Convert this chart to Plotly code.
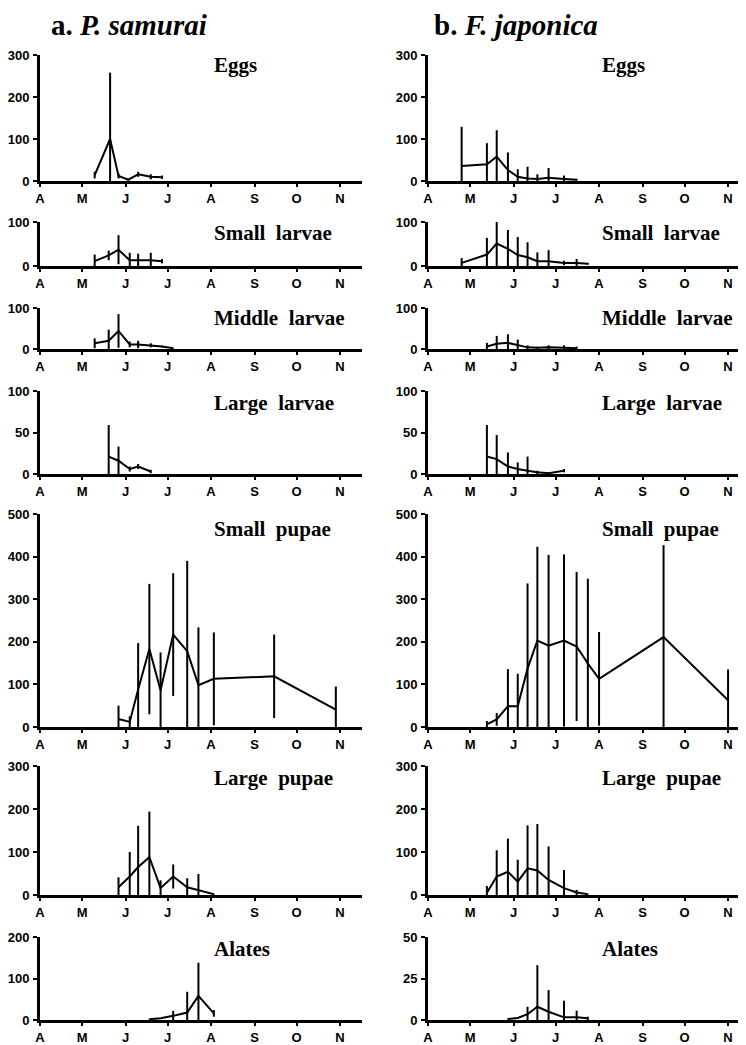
import plotly.graph_objects as go

YEAR = "1990-"
month_ticks = ["04-01", "05-01", "06-01", "07-01", "08-01", "09-01", "10-01", "11-01"]
month_labels = ["A", "M", "J", "J", "A", "S", "O", "N"]

stages = ["Eggs", "Small larvae", "Middle larvae", "Large larvae", "Small pupae", "Large pupae", "Alates"]

# ---- a. P. samurai ----
ps_eggs_dates = ["05-10", "05-21", "05-27", "06-03", "06-10", "06-19", "06-27"]
ps_eggs_mean = [14, 100, 12, 3, 16, 10, 9]
ps_eggs_sd = [8, 158, 6, 3, 6, 6, 4]

ps_sl_dates = ["05-10", "05-20", "05-27", "06-04", "06-10", "06-19", "06-27"]
ps_sl_mean = [11, 24, 37, 13, 13, 13, 11]
ps_sl_sd = [15, 11, 33, 17, 15, 17, 5]

ps_ml_dates = ["05-10", "05-20", "05-27", "06-04", "06-10", "06-19", "06-27", "07-05"]
ps_ml_mean = [14, 20, 44, 11, 11, 9, 6, 2]
ps_ml_sd = [12, 27, 41, 7, 9, 5, 2, 1]

ps_ll_dates = ["05-20", "05-27", "06-04", "06-10", "06-19"]
ps_ll_mean = [21, 16, 6, 9, 3]
ps_ll_sd = [38, 17, 3, 3, 2]

ps_sp_dates = ["05-27", "06-04", "06-10", "06-18", "06-26", "07-05", "07-15", "07-23", "08-03", "09-15", "10-29"]
ps_sp_mean = [19, 12, 88, 183, 86, 217, 178, 98, 113, 119, 41]
ps_sp_sd = [31, 13, 109, 153, 89, 144, 212, 136, 109, 98, 54]

ps_lp_dates = ["05-27", "06-04", "06-10", "06-18", "06-26", "07-05", "07-15", "07-23", "08-03"]
ps_lp_mean = [18, 43, 65, 88, 16, 43, 18, 12, 2]
ps_lp_sd = [23, 57, 96, 106, 18, 28, 21, 37, 1]

ps_al_dates = ["06-18", "06-26", "07-05", "07-15", "07-23", "08-03"]
ps_al_mean = [2, 4, 10, 18, 58, 16]
ps_al_sd = [1, 1, 12, 50, 80, 8]

# ---- b. F. japonica ----
fj_eggs_dates = ["04-25", "05-13", "05-20", "05-28", "06-04", "06-11", "06-18", "06-26", "07-07", "07-16"]
fj_eggs_mean = [36, 40, 58, 26, 10, 6, 5, 8, 5, 3]
fj_eggs_sd = [93, 50, 63, 42, 18, 28, 11, 23, 8, 2]

fj_sl_dates = ["04-25", "05-13", "05-20", "05-28", "06-04", "06-11", "06-18", "06-26", "07-07", "07-16", "07-24"]
fj_sl_mean = [7, 26, 51, 39, 25, 20, 11, 11, 7, 7, 5]
fj_sl_sd = [11, 38, 53, 43, 41, 34, 20, 25, 5, 9, 2]

fj_ml_dates = ["05-13", "05-20", "05-28", "06-04", "06-11", "06-18", "06-26", "07-07", "07-16"]
fj_ml_mean = [6, 13, 15, 9, 4, 3, 4, 3, 2]
fj_ml_sd = [9, 19, 21, 14, 5, 3, 5, 6, 4]

fj_ll_dates = ["05-13", "05-20", "05-28", "06-04", "06-11", "06-18", "06-26", "07-07"]
fj_ll_mean = [21, 18, 9, 6, 4, 2, 1, 4]
fj_ll_sd = [38, 29, 17, 8, 17, 2, 1, 2]

fj_sp_dates = ["05-13", "05-20", "05-28", "06-04", "06-11", "06-18", "06-26", "07-07", "07-16", "07-24", "08-01", "09-16", "11-01"]
fj_sp_mean = [6, 18, 49, 49, 137, 203, 191, 203, 189, 149, 113, 211, 63]
fj_sp_sd = [8, 15, 87, 76, 200, 220, 213, 202, 175, 199, 110, 216, 72]

fj_lp_dates = ["05-13", "05-20", "05-28", "06-04", "06-11", "06-18", "06-26", "07-07", "07-16", "07-24"]
fj_lp_mean = [5, 43, 54, 31, 62, 57, 35, 16, 6, 2]
fj_lp_sd = [16, 61, 77, 51, 100, 108, 78, 42, 6, 1]

fj_al_dates = ["05-28", "06-04", "06-11", "06-18", "06-26", "07-07", "07-16", "07-24"]
fj_al_mean = [0.6, 1.2, 3.5, 8, 5, 1.6, 1.6, 1]
fj_al_sd = [0.3, 0.5, 4.5, 25, 13, 10, 4, 1]

ps_panels = [
    (ps_eggs_dates, ps_eggs_mean, ps_eggs_sd),
    (ps_sl_dates, ps_sl_mean, ps_sl_sd),
    (ps_ml_dates, ps_ml_mean, ps_ml_sd),
    (ps_ll_dates, ps_ll_mean, ps_ll_sd),
    (ps_sp_dates, ps_sp_mean, ps_sp_sd),
    (ps_lp_dates, ps_lp_mean, ps_lp_sd),
    (ps_al_dates, ps_al_mean, ps_al_sd),
]
fj_panels = [
    (fj_eggs_dates, fj_eggs_mean, fj_eggs_sd),
    (fj_sl_dates, fj_sl_mean, fj_sl_sd),
    (fj_ml_dates, fj_ml_mean, fj_ml_sd),
    (fj_ll_dates, fj_ll_mean, fj_ll_sd),
    (fj_sp_dates, fj_sp_mean, fj_sp_sd),
    (fj_lp_dates, fj_lp_mean, fj_lp_sd),
    (fj_al_dates, fj_al_mean, fj_al_sd),
]

ps_ymax = [300, 100, 100, 100, 500, 300, 200]
fj_ymax = [300, 100, 100, 100, 500, 300, 50]
ps_yticks = [[0, 100, 200, 300], [0, 100], [0, 100], [0, 50, 100], [0, 100, 200, 300, 400, 500], [0, 100, 200, 300], [0, 100, 200]]
fj_yticks = [[0, 100, 200, 300], [0, 100], [0, 100], [0, 50, 100], [0, 100, 200, 300, 400, 500], [0, 100, 200, 300], [0, 25, 50]]

# ---- layout geometry (page pixels; the page body adds an 8px offset) ----
OFF = 8
W, H = 746 - OFF, 1045 - OFF


def fx(px):
    return (px - OFF) / W


def fy(py):
    return 1 - (py - OFF) / H


row_px = [(55, 181), (222, 266), (308, 349), (391, 474), (514, 727), (766, 895), (937, 1020)]
col_px = [(40, 362), (428, 746)]
col_xend = ["1990-11-16 16:00", "1990-11-13 19:00"]
label_y = [65, 233, 318, 403, 529, 778, 949]
label_x = [212, 600]

fig = go.Figure()
layout = dict(
    width=W, height=H, margin=dict(l=0, r=0, t=0, b=0, autoexpand=False),
    paper_bgcolor="white", plot_bgcolor="white", showlegend=False,
)
annotations = []

tick_font_x = dict(family="Liberation Sans, Arial, sans-serif", size=13, color="black", weight="bold")
tick_font_y = dict(family="Liberation Sans Narrow, Liberation Sans, Arial, sans-serif", size=13, color="black", weight="bold")

for c, (panels, ymaxs, yticks) in enumerate([(ps_panels, ps_ymax, ps_yticks), (fj_panels, fj_ymax, fj_yticks)]):
    for r in range(7):
        k = 2 * r + c + 1
        dates, mean, sd = panels[r]
        minus = [min(s, m) for s, m in zip(sd, mean)]
        fig.add_trace(go.Scatter(
            x=[YEAR + d for d in dates], y=mean, mode="lines",
            line=dict(color="black", width=2),
            error_y=dict(type="data", symmetric=False, array=sd, arrayminus=minus,
                         color="black", thickness=2, width=0),
            xaxis="x%d" % k, yaxis="y%d" % k, hoverinfo="skip",
        ))
        top, bot = row_px[r]
        x0, x1 = col_px[c]
        layout["xaxis%d" % k] = dict(
            domain=[fx(x0), min(1.0, fx(x1))], anchor="y%d" % k, type="date",
            range=["1990-04-01", col_xend[c]],
            tickvals=[YEAR + t for t in month_ticks], ticktext=month_labels,
            showline=True, linewidth=3, linecolor="black", mirror=False,
            ticks="outside", ticklen=3, tickwidth=2, tickcolor="black",
            showgrid=False, zeroline=False, tickfont=tick_font_x, automargin=False,
        )
        layout["yaxis%d" % k] = dict(
            domain=[fy(bot), fy(top)], anchor="x%d" % k,
            range=[0, ymaxs[r]], tickvals=yticks[r],
            showline=True, linewidth=3, linecolor="black",
            ticks="outside", ticklen=4, tickwidth=2, tickcolor="black",
            ticklabelstandoff=1,
            showgrid=False, zeroline=False, tickfont=tick_font_y, automargin=False,
        )
        annotations.append(dict(
            x=fx(label_x[c]), y=fy(label_y[r]), xref="paper", yref="paper",
            xanchor="left", yanchor="middle", showarrow=False,
            text="<b>" + stages[r].replace(" ", "&nbsp;&nbsp;") + "</b>",
            font=dict(family="Liberation Serif, Times New Roman, serif", size=21, color="black"),
        ))

titles = [("a.", "P. samurai", 50), ("b.", "F. japonica", 433)]
for pre, name, px in titles:
    annotations.append(dict(
        x=fx(px), y=1.0, xref="paper", yref="paper",
        xanchor="left", yanchor="top", showarrow=False, borderpad=0,
        text="<b>%s <i>%s</i></b>" % (pre, name),
        font=dict(family="Liberation Serif, Times New Roman, serif", size=29, color="black"),
    ))

layout["annotations"] = annotations
fig.update_layout(**layout)
fig.write_html("out.html")
